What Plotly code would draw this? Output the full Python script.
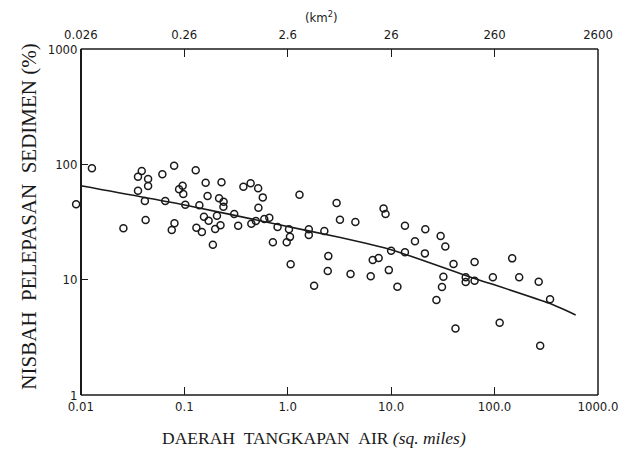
import plotly.graph_objects as go

# Catchment area (sq. miles) and sediment delivery ratio (%)
area_sqmi = [0.0090, 0.0128, 0.0258, 0.0388, 0.0357, 0.0447, 0.0447, 0.0357, 0.0416, 0.0423,
             0.0614, 0.0798, 0.0655, 0.0757, 0.0804, 0.0891, 0.0964, 0.0978, 0.1023, 0.129,
             0.161, 0.168, 0.140, 0.155, 0.172, 0.131, 0.148, 0.189, 0.229, 0.217,
             0.240, 0.239, 0.207, 0.224, 0.199, 0.304, 0.332, 0.373, 0.438, 0.518,
             0.574, 0.521, 0.445, 0.492, 0.594, 0.664, 0.798, 0.719, 1.029, 1.052,
             0.978, 1.068, 1.30, 1.60, 1.60, 1.80, 2.26, 2.47, 2.44, 2.97,
             3.20, 4.51, 4.05, 6.35, 6.64, 7.57, 8.45, 8.83, 10.0, 9.50,
             11.5, 13.6, 13.6, 17.0, 21.4, 21.2, 30.1, 33.4, 40.1, 32.0,
             31.0, 27.4, 41.9, 52.6, 52.6, 64.1, 64.1, 96.3, 112, 148,
             173, 267, 276, 344]
ratio_pct = [45.0, 92.3, 27.9, 87.5, 78.1, 74.6, 64.8, 59.0, 48.0, 32.9,
             81.9, 97.2, 48.0, 26.9, 30.8, 60.7, 65.2, 55.3, 44.6, 88.7,
             69.2, 53.1, 44.1, 35.1, 32.4, 28.2, 25.9, 20.1, 69.8, 50.7,
             47.4, 42.9, 35.8, 29.6, 27.5, 37.1, 29.3, 64.0, 68.4, 61.9,
             51.7, 42.0, 30.5, 32.2, 33.5, 34.4, 28.6, 21.1, 27.3, 23.5,
             21.1, 13.6, 54.5, 27.3, 24.4, 8.85, 26.4, 16.0, 11.9, 46.2,
             33.1, 31.6, 11.2, 10.7, 14.8, 15.4, 41.5, 37.1, 17.8, 12.1,
             8.68, 29.3, 17.3, 21.5, 27.3, 16.9, 23.9, 19.4, 13.7, 10.6,
             8.62, 6.65, 3.78, 10.5, 9.53, 14.2, 9.78, 10.5, 4.23, 15.3,
             10.5, 9.59, 2.67, 6.75]

# Fitted curve
curve_area = [0.01, 0.101, 0.785, 3.15, 10.2, 50.7, 339, 608]
curve_ratio = [65.2, 44.4, 30.2, 23.3, 18.1, 11.0, 6.23, 4.93]

bottom_tickvals = [0.01, 0.1, 1, 10, 100, 1000]
bottom_ticktext = ["0.01", "0.1", "1.0", "10.0", "100.0", "1000.0"]
top_ticktext = ["0.026", "0.26", "2.6", "26", "260", "2600"]
y_tickvals = [1, 10, 100, 1000]
y_ticktext = ["1", "10", "100", "1000"]

ink = "#1a1a1a"
tickfont = dict(family="DejaVu Sans Condensed, Liberation Sans Narrow, DejaVu Sans, sans-serif",
                size=13, color=ink)
serif = "Liberation Serif, DejaVu Serif, serif"

ML, MR, MT, MB = 70, 24, 49, 56
W, H = 630, 451
plot_w = W - ML - MR
plot_h = H - MT - MB
axis_start = 11  # px between plot-area edge and the 0.01 axis line (room for one point)
decade_px = (plot_w - axis_start) / 5.0
x_range = [-2 - axis_start / decade_px, 3]
frame_x0 = axis_start / plot_w

fig = go.Figure()
fig.add_trace(go.Scatter(x=curve_area, y=curve_ratio, mode="lines",
                         line=dict(color=ink, width=1.6, shape="spline", smoothing=0.6),
                         showlegend=False, hoverinfo="skip"))
fig.add_trace(go.Scatter(x=area_sqmi, y=ratio_pct, mode="markers",
                         marker=dict(symbol="circle-open", size=7, color=ink,
                                     line=dict(width=1.5, color=ink)),
                         showlegend=False))
fig.add_trace(go.Scatter(x=[None], y=[None], xaxis="x2", showlegend=False, hoverinfo="skip"))

tick_common = dict(ticks="inside", tickwidth=1.3, tickcolor=ink, showgrid=False,
                   zeroline=False, tickfont=tickfont)

frame = dict(type="line", xref="paper", yref="paper", line=dict(color=ink, width=1.5), layer="above")

fig.update_layout(
    width=W, height=H,
    margin=dict(l=ML, r=MR, t=MT, b=MB),
    paper_bgcolor="white", plot_bgcolor="white",
    xaxis=dict(type="log", range=x_range, tickvals=bottom_tickvals, ticktext=bottom_ticktext,
               ticklen=8, showline=False, ticklabelstandoff=2, **tick_common),
    xaxis2=dict(type="log", range=x_range, overlaying="x", side="top", anchor="y",
                tickvals=bottom_tickvals, ticktext=top_ticktext, ticklen=8,
                ticklabelstandoff=6, showline=False, **tick_common),
    yaxis=dict(type="log", range=[0, 3], anchor="free", position=frame_x0,
               tickvals=y_tickvals, ticktext=y_ticktext, ticklen=6,
               showline=True, linecolor=ink, linewidth=1.5, **tick_common),
    shapes=[
        dict(frame, x0=frame_x0, x1=1, y0=0, y1=0),
        dict(frame, x0=frame_x0, x1=1, y0=1, y1=1),
        dict(frame, x0=1, x1=1, y0=0, y1=1),
    ],
    annotations=[
        dict(text="(km<sup>2</sup>)", xref="paper", yref="paper",
             x=(325 - ML) / plot_w, y=1 + (MT - 17) / plot_h,
             xanchor="center", yanchor="middle", showarrow=False,
             font=dict(family=tickfont["family"], size=13, color=ink)),
        dict(text="DAERAH\u00a0\u00a0TANGKAPAN\u00a0\u00a0AIR <i>(sq. miles)</i>",
             xref="paper", yref="paper", x=(318 - ML) / plot_w, y=-(438 - (H - MB)) / plot_h,
             xanchor="center", yanchor="middle", showarrow=False,
             font=dict(family=serif, size=17.5, color=ink)),
        dict(text="NISBAH\u00a0\u00a0PELEPASAN\u00a0\u00a0SEDIMEN (%)",
             xref="paper", yref="paper", x=(28 - ML) / plot_w, y=(H - MB - 217) / plot_h,
             xanchor="center", yanchor="middle", textangle=-90, showarrow=False,
             font=dict(family=serif, size=21, color=ink)),
    ],
)

fig.write_html("out.html", post_script="document.body.style.margin='0';",
               config={"displayModeBar": False})
